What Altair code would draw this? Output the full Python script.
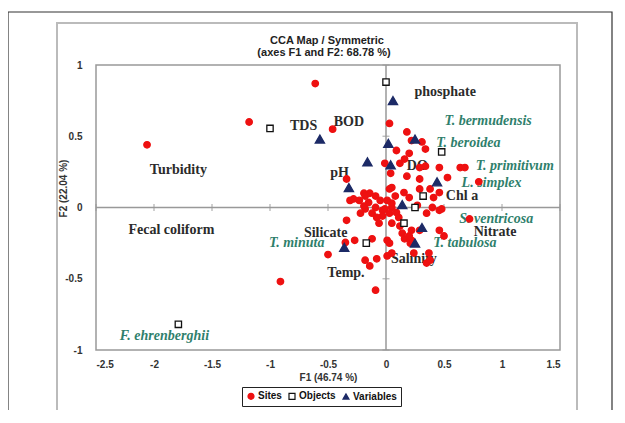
import altair as alt
import pandas as pd

# ---------------- data ----------------
site_x = [-2.06, -1.18, -0.61, -0.46, -0.91, -0.50, -0.09, -0.34, -0.34, -0.31,
          -0.19, -0.14, -0.09, -0.28, 0.03, 0.18, 0.22, 0.31, 0.34, 0.09,
          0.16, 0.20, 0.04, 0.18, 0.29, 0.34, 0.46, 0.53, 0.64, 0.68,
          0.80, 0.29, 0.05, 0.29, 0.38, 0.46, 0.20, 0.41, -0.18, 0.08,
          0.05, -0.18, -0.09, -0.03, 0.35, 0.46, -0.01, 0.12, 0.03, 0.155,
          -0.19, -0.01, 0.05, -0.22, -0.12, -0.03, 0.03, 0.11, 0.48, -0.06,
          0.05, 0.14, 0.22, 0.29, 0.46, 0.50, 0.72, -0.27, -0.12, 0.01,
          0.03, 0.16, 0.21, -0.35, 0.01, 0.24, 0.35, 0.38, -0.18, -0.14,
          -0.08, 0.22, 0.20, 0.05, 0.37, -0.05, -0.15, -0.08, 0.09, 0.01,
          -0.23, 0.12, 0.27, 0.40]
site_y = [0.44, 0.60, 0.87, 0.55, -0.52, -0.33, -0.58, -0.09, 0.20, 0.05,
          0.10, 0.10, 0.08, 0.06, 0.59, 0.53, 0.47, 0.46, 0.41, 0.40,
          0.34, 0.38, 0.24, 0.22, 0.28, 0.29, 0.28, 0.21, 0.28, 0.28,
          0.18, 0.20, 0.14, 0.13, 0.13, 0.105, 0.07, 0.07, 0.08, 0.08,
          0.00, -0.01, 0.00, -0.02, -0.04, -0.02, 0.31, 0.31, 0.13, 0.105,
          0.01, -0.01, 0.03, -0.04, -0.04, -0.06, -0.04, -0.07, -0.01, -0.11,
          -0.11, -0.18, -0.16, -0.16, -0.16, -0.20, -0.08, -0.23, -0.22, -0.23,
          -0.25, -0.22, -0.25, -0.245, -0.34, -0.32, -0.39, -0.37, -0.37, -0.41,
          -0.36, -0.23, -0.20, -0.32, -0.32, 0.05, 0.035, -0.07, -0.035, 0.05,
          0.05, -0.13, 0.015, 0.00]

obj_x = [0.00, -1.00, 0.48, 0.32, 0.25, 0.155, -0.17, -1.79]
obj_y = [0.88, 0.555, 0.39, 0.08, 0.00, -0.11, -0.25, -0.82]

var_x = [0.06, -0.57, -0.16, 0.02, 0.25, 0.04, -0.32, 0.44, 0.14, 0.31, 0.25, -0.36]
var_y = [0.75, 0.48, 0.32, 0.45, 0.48, 0.30, 0.14, 0.18, 0.02, -0.14, -0.25, -0.28]

env_labels = ["phosphate", "TDS", "BOD", "Turbidity", "pH", "DO", "Chl a",
              "Nitrate", "Silicate", "Fecal coliform", "Salinity", "Temp."]
env_x = [0.51, -0.71, -0.32, -1.79, -0.40, 0.27, 0.655, 0.94, -0.52, -1.85, 0.24, -0.345]
env_y = [0.81, 0.575, 0.60, 0.26, 0.24, 0.29, 0.08, -0.17, -0.18, -0.16, -0.36, -0.46]

sp_labels = ["T. bermudensis", "T. beroidea", "T. primitivum", "L. simplex",
             "S. ventricosa", "T. tabulosa", "T. minuta", "F. ehrenberghii"]
sp_x = [0.88, 0.71, 1.11, 0.91, 0.95, 0.68, -0.77, -1.91]
sp_y = [0.61, 0.45, 0.29, 0.17, -0.08, -0.25, -0.25, -0.90]

title_lines = ["CCA Map / Symmetric", "(axes F1 and F2: 68.78 %)"]
x_ticks = [-2.5, -2, -1.5, -1, -0.5, 0, 0.5, 1, 1.5]
y_ticks = [-1, -0.5, 0, 0.5, 1]
legend_items = ["Sites", "Objects", "Variables"]

# ---------------- tables ----------------
sites = pd.DataFrame({"x": site_x, "y": site_y, "type": "Sites"})
objs = pd.DataFrame({"x": obj_x, "y": obj_y, "type": "Objects"})
vars_ = pd.DataFrame({"x": var_x, "y": var_y, "type": "Variables"})
env = pd.DataFrame({"x": env_x, "y": env_y, "label": env_labels})
sp = pd.DataFrame({"x": sp_x, "y": sp_y, "label": sp_labels})
xt = pd.DataFrame({"x": x_ticks, "y": 0.0})
yt = pd.DataFrame({"x": 0.0, "y": y_ticks})

xs = alt.Scale(domain=[-2.5, 1.5], nice=False, zero=False)
ys = alt.Scale(domain=[-1, 1], nice=False, zero=False)

axis_common = dict(grid=False, ticks=False, domain=False,
                   labelFont="Liberation Sans", labelFontSize=10,
                   labelFontWeight="bold", labelColor="#333333",
                   titleFont="Liberation Sans", titleFontSize=10,
                   titleFontWeight="bold", titleColor="#333333",
                   labelExpr="'' + datum.value")

X = alt.X("x:Q", scale=xs,
          axis=alt.Axis(values=x_ticks, title="F1 (46.74 %)", labelPadding=9,
                        titlePadding=3, **axis_common))
Y = alt.Y("y:Q", scale=ys,
          axis=alt.Axis(values=y_ticks, title="F2 (22.04 %)", labelPadding=14,
                        titleX=-28, titleY=123, **axis_common))

GRAY = "#999999"

frame_outer = alt.Chart(pd.DataFrame({"a": [0]})).mark_rect(
    fill="transparent", stroke="#333333", strokeWidth=1.2
).encode(x=alt.value(-88), x2=alt.value(516), y=alt.value(-53), y2=alt.value(420))

frame_inner = alt.Chart(pd.DataFrame({"a": [0]})).mark_rect(
    fill="transparent", stroke="#bbbbbb", strokeWidth=2
).encode(x=alt.value(-39), x2=alt.value(481), y=alt.value(-42), y2=alt.value(420))

title1 = alt.Chart(pd.DataFrame({"t": [title_lines[0]]})).mark_text(
    font="Liberation Sans", fontSize=11, fontWeight="bold", color="#222222"
).encode(x=alt.value(231), y=alt.value(-24), text="t:N")
title2 = alt.Chart(pd.DataFrame({"t": [title_lines[1]]})).mark_text(
    font="Liberation Sans", fontSize=11, fontWeight="bold", color="#222222"
).encode(x=alt.value(228), y=alt.value(-12), text="t:N")

vline = alt.Chart(pd.DataFrame({"x": [0.0]})).mark_rule(
    color=GRAY, strokeWidth=1.5).encode(x=X)
hline = alt.Chart(pd.DataFrame({"y": [0.0]})).mark_rule(
    color=GRAY, strokeWidth=1.5).encode(y=Y)

xticks = alt.Chart(xt).mark_tick(orient="vertical", size=7, thickness=1.3,
                                 color=GRAY).encode(x=X, y=Y)
yticks = alt.Chart(yt).mark_tick(orient="horizontal", size=7, thickness=1.3,
                                 color=GRAY).encode(x=X, y=Y)

env_text = alt.Chart(env).mark_text(
    font="Liberation Serif", fontSize=14, fontWeight="bold", color="#2b2b2b"
).encode(x=X, y=Y, text="label:N")

sp_text = alt.Chart(sp).mark_text(
    font="Liberation Serif", fontSize=14, fontWeight="bold", fontStyle="italic",
    color="#2f7f6c"
).encode(x=X, y=Y, text="label:N")

fill_scale = alt.Scale(domain=legend_items, range=["#ee1111", "white", "#1c2a66"])
stroke_scale = alt.Scale(domain=legend_items, range=["#ee1111", "#111111", "#1c2a66"])
shape_scale = alt.Scale(domain=legend_items, range=["circle", "square", "triangle-up"])

legend = alt.Legend(orient="none", legendX=146, legendY=322, direction="horizontal",
                    title=None, strokeColor="#222222", fillColor="white",
                    padding=4, labelFont="Liberation Sans", labelFontSize=10,
                    labelFontWeight="bold", labelColor="#111111",
                    symbolSize=36, symbolStrokeWidth=1.2, labelOffset=2,
                    columnPadding=4)


def pts(df, size):
    return alt.Chart(df).mark_point(filled=True, size=size, strokeWidth=1.3, opacity=1).encode(
        x=X, y=Y,
        fill=alt.Fill("type:N", scale=fill_scale, legend=legend),
        stroke=alt.Stroke("type:N", scale=stroke_scale, legend=legend),
        shape=alt.Shape("type:N", scale=shape_scale, legend=legend),
    )


chart = alt.layer(
    frame_outer, frame_inner, title1, title2, vline, hline, xticks, yticks,
    env_text, sp_text,
    pts(sites, 42), pts(objs, 40), pts(vars_, 85),
).properties(
    width=464, height=285,
    autosize=alt.AutoSizeParams(type="none"),
    padding={"left": 88, "top": 57, "right": 57, "bottom": 60},
).configure_view(
    stroke=GRAY, strokeWidth=1.5
)

chart.save("out.html", embed_options={"renderer": "svg", "actions": False})
